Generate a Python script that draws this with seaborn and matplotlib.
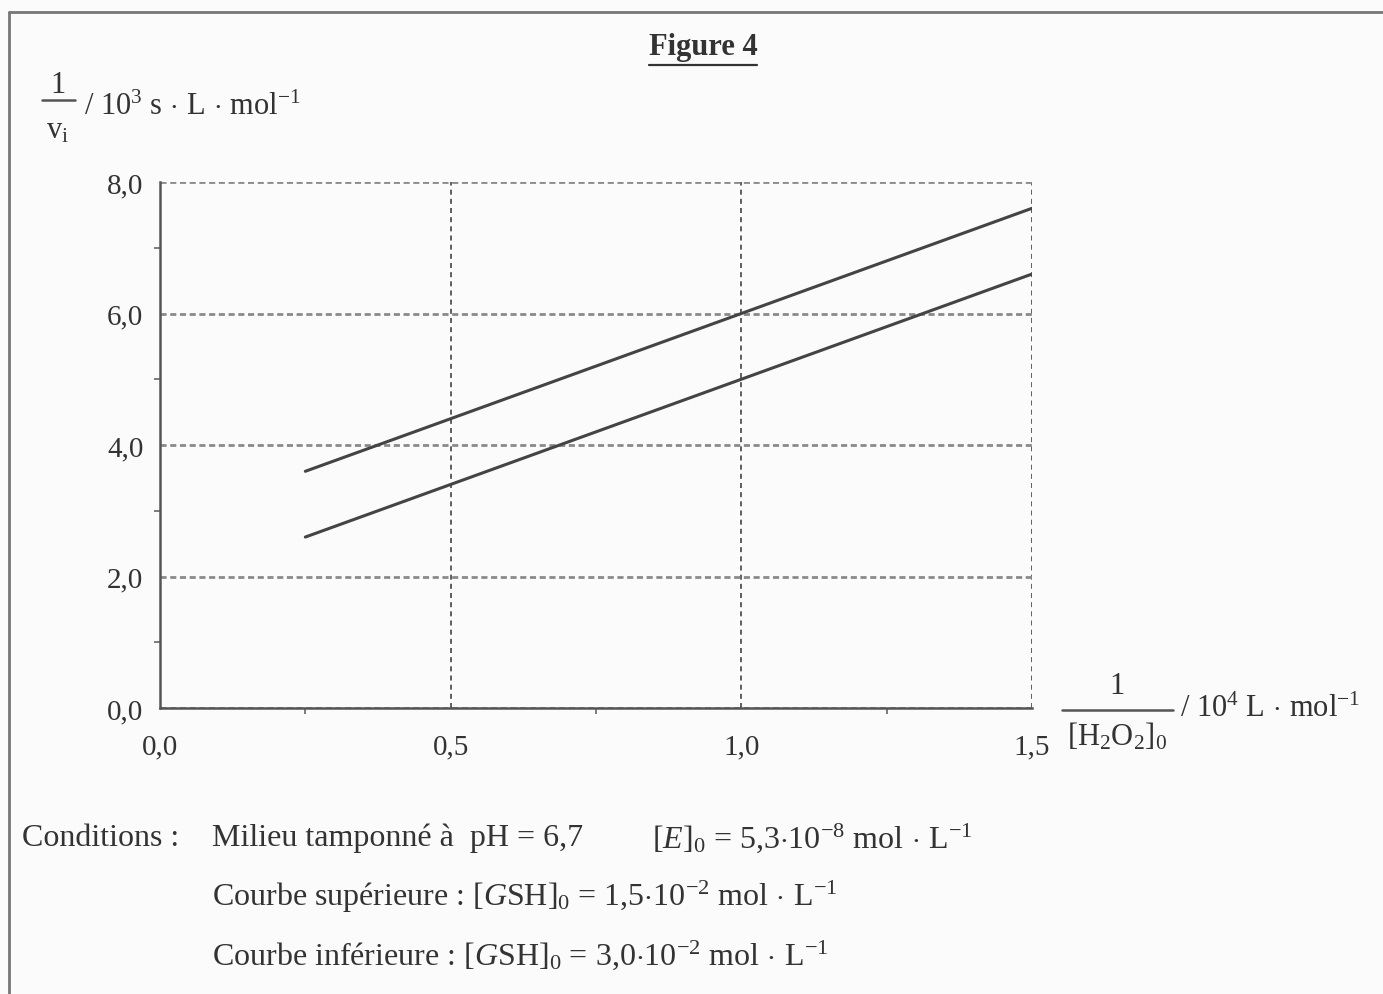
import pandas as pd
import numpy as np
import matplotlib.pyplot as plt
import seaborn as sns
from matplotlib.lines import Line2D
from matplotlib.ticker import MultipleLocator, FuncFormatter

# donnees
inv_h2o2 = [0.25, 1.5]
courbe_sup = [3.6, 7.6]
courbe_inf = [2.6, 6.6]

x_ticks = [0.0, 0.5, 1.0, 1.5]
y_ticks = [0.0, 2.0, 4.0, 6.0, 8.0]

df = pd.DataFrame({
    'x': inv_h2o2 * 2,
    'y': courbe_sup + courbe_inf,
    'courbe': ['sup'] * 2 + ['inf'] * 2,
})

sns.set_style('white')
plt.rcParams['font.family'] = ['Liberation Serif', 'DejaVu Serif']
plt.rcParams['mathtext.fontset'] = 'custom'
plt.rcParams['mathtext.rm'] = 'Liberation Serif'
plt.rcParams['mathtext.it'] = 'Liberation Serif:italic'
plt.rcParams['mathtext.bf'] = 'Liberation Serif:bold'

W, H = 1383, 995
encre = '#333333'
fig = plt.figure(figsize=(W / 100, H / 100), dpi=100, facecolor='#fbfbfb')
ax = fig.add_axes([160 / W, 1 - 709 / H, (1032 - 160) / W, (709 - 183) / H])
ax.set_facecolor('#fbfbfb')

sns.lineplot(data=df, x='x', y='y', units='courbe', estimator=None,
             color='#444444', lw=2.2, ax=ax, legend=False)

ax.set_xlim(0, 1.5)
ax.set_ylim(0, 8)
ax.set_xticks(x_ticks)
ax.set_yticks(y_ticks)
ax.xaxis.set_minor_locator(MultipleLocator(0.25))
ax.yaxis.set_minor_locator(MultipleLocator(1.0))
virgule = FuncFormatter(lambda v, p: f'{v:.1f}'.replace('.', ','))
ax.xaxis.set_major_formatter(virgule)
ax.yaxis.set_major_formatter(virgule)
ax.set_xlabel('')
ax.set_ylabel('')

ax.yaxis.grid(True, which='major', ls=(0, (2.2, 1.3)), color='#8a8a8a', lw=2.0)
ax.xaxis.grid(True, which='major', ls=(0, (3, 2.5)), color='#444444', lw=1.2)

for s in ['top', 'right']:
    ax.spines[s].set_visible(False)
for s in ['left', 'bottom']:
    ax.spines[s].set_color('#555555')
    ax.spines[s].set_linewidth(1.8)

ax.tick_params(which='major', direction='out', length=4, width=1.2, color='#555555',
               labelsize=21, labelcolor=encre)
ax.tick_params(axis='y', which='major', pad=8)
ax.tick_params(axis='x', which='major', pad=14)
ax.tick_params(which='minor', direction='out', length=4, width=1.2, color='#666666',
               bottom=True, left=True)

# titre souligne
t = fig.text(703 / W, 1 - 48 / H, 'Figure 4', ha='center', va='center',
             fontsize=22, fontweight='bold', color=encre)
fig.canvas.draw()
bb = t.get_window_extent()
fig.add_artist(Line2D([bb.x0 / W, bb.x1 / W], [(bb.y0 - 3) / H, (bb.y0 - 3) / H],
                      color=encre, lw=1.6, transform=fig.transFigure))


def fraction(xc, y_num, y_bar, y_den, x0, x1, num, den, suite, x_suite, y_suite, fs=22):
    fig.text(xc / W, 1 - y_num / H, num, ha='center', va='center', fontsize=fs, color=encre)
    fig.add_artist(Line2D([x0 / W, x1 / W], [1 - y_bar / H, 1 - y_bar / H],
                          color='#555555', lw=1.8, transform=fig.transFigure))
    fig.text(xc / W, 1 - y_den / H, den, ha='center', va='center', fontsize=fs, color=encre)
    fig.text(x_suite / W, 1 - y_suite / H, suite, ha='left', va='center', fontsize=fs,
             color=encre)


# titres des axes
fraction(58, 86, 101, 131, 42, 75, '1', r'v$_\mathrm{i}$',
         r'/ 10$^3$ s$\,\cdot\,$L$\,\cdot\,$mol$^{-1}$', 84, 107)
fraction(1117, 686, 711, 737, 1062, 1173, '1', r'[H$_2$O$_2$]$_0$',
         r'/ 10$^4$ L$\,\cdot\,$mol$^{-1}$', 1180, 709)

# conditions
fs = 23
fig.text(22 / W, 1 - 838 / H, 'Conditions :', ha='left', va='center', fontsize=fs, color=encre)
fig.text(212 / W, 1 - 838 / H, 'Milieu tamponné à  pH = 6,7', ha='left', va='center',
         fontsize=fs, color=encre)
fig.text(652 / W, 1 - 838 / H, r'$[E]_0$ = 5,3$\cdot$10$^{-8}$ mol$\,\cdot\,$L$^{-1}$',
         ha='left', va='center', fontsize=fs, color=encre)
fig.text(212 / W, 1 - 897 / H,
         r'Courbe supérieure : $[G\mathrm{SH}]_0$ = 1,5$\cdot$10$^{-2}$ mol$\,\cdot\,$L$^{-1}$',
         ha='left', va='center', fontsize=fs, color=encre)
fig.text(212 / W, 1 - 955 / H,
         r'Courbe inférieure : $[G\mathrm{SH}]_0$ = 3,0$\cdot$10$^{-2}$ mol$\,\cdot\,$L$^{-1}$',
         ha='left', va='center', fontsize=fs, color=encre)

# cadre du document scanne
fig.add_artist(Line2D([9 / W, 1], [1 - 13 / H, 1 - 13 / H], color='#777777', lw=2,
                      transform=fig.transFigure))
fig.add_artist(Line2D([9 / W, 9 / W], [0, 1 - 13 / H], color='#777777', lw=2,
                      transform=fig.transFigure))

plt.savefig('out.png', dpi=100, facecolor=fig.get_facecolor())
